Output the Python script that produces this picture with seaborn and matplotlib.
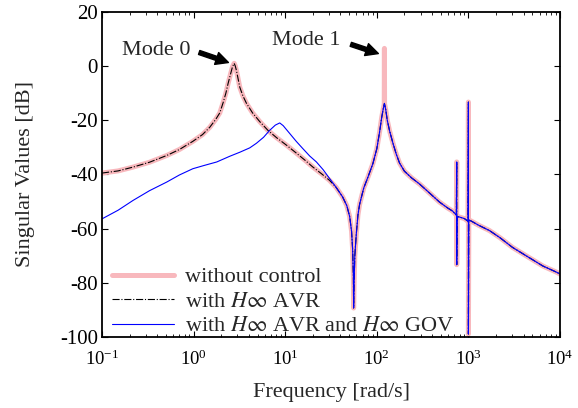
import matplotlib
matplotlib.use("Agg")
import matplotlib.pyplot as plt
import seaborn as sns
from matplotlib.ticker import LogLocator, MultipleLocator, NullFormatter

# frequency [rad/s] and singular values [dB]
# without control
freq_open = [0.1, 0.15, 0.218, 0.33, 0.51, 0.7, 0.98, 1.25, 1.5, 1.75, 1.93, 2.1, 2.25, 2.38, 2.52,
             2.66, 2.77, 2.85, 2.94, 3.05, 3.19, 3.45, 3.78, 4.4, 5.27, 6.5, 8.02, 10.5, 13.3, 16.5,
             19.9, 25, 30.5, 36, 42.3, 47, 50.5, 53, 54.5, 55.5, 55.8, 56.5, 57.5, 59.7, 62.2, 64.9,
             72, 80, 90.6, 100, 107, 113, 118, 120.5, 121, 121.5, 125, 130, 138, 150, 163, 177, 200,
             240, 292, 380, 483, 600, 670, 738, 745, 745, 752, 830, 904, 990, 1000, 1000, 1010, 1071,
             1300, 1694, 2200, 3020, 4500, 6500, 9330, 10000]
db_open = [-39.5, -38.7, -37.3, -35.5, -33.0, -30.8, -27.8, -25.3, -22.6, -19.6, -17.3, -13.5, -10.0, -6.4, -3.2,
           -0.2, 1.0, 0.0, -1.8, -4.5, -7.8, -11.0, -13.8, -17.3, -20.5, -23.8, -26.4, -29.4, -32.2, -34.8,
           -37.2, -39.8, -42.2, -44.8, -48.3, -51.5, -55.5, -61.0, -68.0, -78.0, -89.3, -80.0, -70.0, -62.0, -55.0, -51.0,
           -45.0, -41.0, -36.0, -30.5, -24.5, -19.0, -15.5, -14.0, 6.5, -14.0, -16.0, -20.0, -24.0, -28.5, -32.5, -35.8, -38.8,
           -41.3, -43.5, -47.0, -50.2, -52.5, -53.5, -55.0, -35.4, -73.3, -55.5, -55.9, -56.3, -57.3, -13.3, -98.9, -56.8, -57.2,
           -58.8, -60.7, -63.3, -66.9, -70.5, -73.8, -76.2, -76.8]

# with H-infinity AVR
freq_avr = [0.1, 0.15, 0.218, 0.33, 0.51, 0.7, 0.98, 1.25, 1.5, 1.75, 1.93, 2.1, 2.25, 2.38, 2.52,
            2.66, 2.77, 2.85, 2.94, 3.05, 3.19, 3.45, 3.78, 4.4, 5.27, 6.5, 8.02, 10.5, 13.3, 16.5,
            19.9, 25, 30.5, 36, 42.3, 47, 50.5, 53, 54.5, 55.5, 55.8, 56.5, 57.5, 59.7, 62.2, 64.9,
            72, 80, 90.6, 100, 107, 113, 118, 121, 125, 130, 138, 150, 163, 177, 200,
            240, 292, 380, 483, 600, 670, 738, 745, 745, 752, 830, 904, 990, 1000, 1000, 1010, 1071,
            1300, 1694, 2200, 3020, 4500, 6500, 9330, 10000]
db_avr = [-39.5, -38.7, -37.3, -35.5, -33.0, -30.8, -27.8, -25.3, -22.6, -19.6, -17.3, -13.5, -10.0, -6.4, -3.2,
          -0.2, 1.0, 0.0, -1.8, -4.5, -7.8, -11.0, -13.8, -17.3, -20.5, -23.8, -26.4, -29.4, -32.2, -34.8,
          -37.2, -39.8, -42.2, -44.8, -48.3, -51.5, -55.5, -61.0, -68.0, -78.0, -89.3, -80.0, -70.0, -62.0, -55.0, -51.0,
          -45.0, -41.0, -36.0, -30.5, -24.5, -19.0, -15.5, -13.8, -16.0, -20.0, -24.0, -28.5, -32.5, -35.8, -38.8,
          -41.3, -43.5, -47.0, -50.2, -52.5, -53.5, -55.0, -35.4, -73.3, -55.5, -55.9, -56.3, -57.3, -13.3, -98.9, -56.8, -57.2,
          -58.8, -60.7, -63.3, -66.9, -70.5, -73.8, -76.2, -76.8]

# with H-infinity AVR and H-infinity GOV
freq_gov = [0.1, 0.15, 0.218, 0.33, 0.51, 0.7, 0.98, 1.3, 1.79, 2.48, 3.2, 4.1, 4.85, 5.8, 6.78,
            7.8, 8.71, 9.5, 11.2, 13.2, 15.5, 18.5, 21.9, 26, 30.5, 36, 42.3, 47, 50.5, 53, 54.5, 55.5,
            55.8, 56.5, 57.5, 59.7, 62.2, 64.9, 72, 80, 90.6, 100, 107, 113, 118, 121, 125, 130, 138,
            150, 163, 177, 200, 240, 292, 380, 483, 600, 670, 738, 745, 745, 752, 830, 904, 990, 1000,
            1000, 1010, 1071, 1300, 1694, 2200, 3020, 4500, 6500, 9330, 10000]
db_gov = [-56.4, -53.2, -49.6, -46.0, -42.8, -40.2, -37.9, -36.7, -35.4, -33.3, -31.8, -30.2, -28.5, -26.3, -23.7,
          -21.8, -21.0, -22.0, -24.9, -27.8, -30.4, -33.2, -35.4, -38.3, -41.5, -44.8, -48.3, -51.5, -55.5, -61.0, -68.0, -78.0,
          -89.3, -80.0, -70.0, -62.0, -55.0, -51.0, -45.0, -41.0, -36.0, -30.5, -24.5, -19.0, -15.5, -13.8, -16.0, -20.0, -24.0,
          -28.5, -32.5, -35.8, -38.8, -41.3, -43.5, -47.0, -50.2, -52.5, -53.5, -55.0, -35.4, -73.3, -55.5, -55.9, -56.3, -57.3, -13.3,
          -98.9, -56.8, -57.2, -58.8, -60.7, -63.3, -66.9, -70.5, -73.8, -76.2, -76.8]

labels = ["without control", r"with $H\infty$ AVR", r"with $H\infty$ AVR and $H\infty$ GOV"]

sns.set_style("ticks")
plt.rcParams["font.family"] = ["Liberation Serif", "DejaVu Serif"]
plt.rcParams["mathtext.fontset"] = "stix"
plt.rcParams["axes.unicode_minus"] = False

fig = plt.figure(figsize=(5.78, 4.08), dpi=100)
ax = fig.add_axes([0.1765, 0.174, 0.7924, 0.797])

sns.lineplot(x=freq_open, y=db_open, sort=False, estimator=None, ax=ax,
             color="#f8b8bd", linewidth=3.6, label=labels[0])
sns.lineplot(x=freq_avr, y=db_avr, sort=False, estimator=None, ax=ax,
             color="black", linewidth=0.8, linestyle="-.", label=labels[1])
sns.lineplot(x=freq_gov, y=db_gov, sort=False, estimator=None, ax=ax,
             color="blue", linewidth=0.8, label=labels[2])

ax.set_xscale("log")
ax.set_xlim(0.1, 1e4)
ax.set_ylim(-100, 20)
ax.yaxis.set_major_locator(MultipleLocator(20))
ax.xaxis.set_major_locator(LogLocator(base=10, numticks=10))
ax.xaxis.set_minor_locator(LogLocator(base=10, subs=range(2, 10), numticks=20))
ax.xaxis.set_minor_formatter(NullFormatter())
ax.tick_params(which="both", direction="in", top=True, right=True, colors="black")
ax.tick_params(axis="y", labelsize=15, pad=3)
ax.tick_params(axis="x", labelsize=13.5, pad=9)
ax.tick_params(which="major", length=4, width=0.8)
ax.tick_params(which="minor", length=2, width=0.6)
for s in ax.spines.values():
    s.set_linewidth(1.3)
    s.set_color("black")

ax.set_xlabel("Frequency [rad/s]", fontsize=16, labelpad=10)
ax.set_ylabel("Singular Values [dB]", fontsize=16, labelpad=18)

ax.text(0.388, 5.9, "Mode 0", fontsize=16, ha="center", va="center")
ax.annotate("", xy=(2.4, 1.3), xytext=(1.15, 5.0),
            arrowprops=dict(facecolor="black", edgecolor="black", width=3, headwidth=9, headlength=9, shrink=0))
ax.text(17.0, 9.6, "Mode 1", fontsize=16, ha="center", va="center")
ax.annotate("", xy=(104, 4.6), xytext=(52, 8.0),
            arrowprops=dict(facecolor="black", edgecolor="black", width=3, headwidth=9, headlength=9, shrink=0))

ax.legend(loc="lower left", bbox_to_anchor=(0.012, -0.012), frameon=False, fontsize=16,
          handlelength=2.8, borderaxespad=0.0, borderpad=0.2, labelspacing=0.18, handletextpad=0.5)

fig.savefig("out.png", dpi=100)
